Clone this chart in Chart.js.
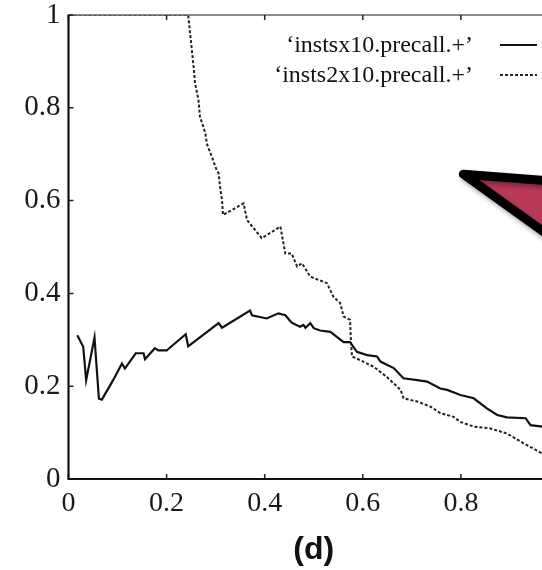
<!DOCTYPE html>
<html lang="en">
<head>
    <meta charset="UTF-8">
    <title>Precall</title>
    <script src="https://cdn.jsdelivr.net/npm/chart.js"></script>
    <style>
        html, body { margin: 0; padding: 0; background: #fff; overflow: hidden; }
        #wrap { width: 600px; height: 570px; }
    </style>
</head>
<body>
    <div id="wrap"><canvas id="chart" width="600" height="570"></canvas></div>

    <script>
        // precision/recall curves
        const instsX = [0.018, 0.030, 0.036, 0.053, 0.062, 0.068, 0.091, 0.109, 0.115, 0.137, 0.153, 0.156, 0.176,
            0.183, 0.200, 0.239, 0.244, 0.306, 0.313, 0.370, 0.374, 0.404, 0.428, 0.442, 0.455, 0.472, 0.479,
            0.483, 0.493, 0.500, 0.513, 0.534, 0.551, 0.561, 0.574, 0.588, 0.609, 0.629, 0.636, 0.663, 0.683,
            0.711, 0.731, 0.758, 0.772, 0.799, 0.826, 0.853, 0.874, 0.894, 0.932, 0.942, 0.966, 1.0];
        const instsY = [0.310, 0.285, 0.213, 0.305, 0.173, 0.171, 0.213, 0.249, 0.238, 0.271, 0.271, 0.258, 0.282,
            0.277, 0.277, 0.312, 0.286, 0.336, 0.326, 0.363, 0.353, 0.346, 0.357, 0.353, 0.337, 0.328, 0.332,
            0.326, 0.336, 0.325, 0.320, 0.317, 0.303, 0.295, 0.295, 0.274, 0.267, 0.264, 0.253, 0.239, 0.217,
            0.213, 0.210, 0.195, 0.192, 0.181, 0.174, 0.152, 0.138, 0.133, 0.131, 0.116, 0.113, 0.105];

        const insts2X = [0, 0.244, 0.248, 0.255, 0.258, 0.265, 0.268, 0.279, 0.282, 0.292, 0.302, 0.306, 0.309,
            0.313, 0.315, 0.357, 0.364, 0.394, 0.432, 0.442, 0.455, 0.466, 0.476, 0.493, 0.527, 0.540, 0.554,
            0.561, 0.574, 0.576, 0.578, 0.595, 0.622, 0.649, 0.677, 0.683, 0.711, 0.738, 0.758, 0.785, 0.799,
            0.826, 0.860, 0.894, 0.928, 0.966, 1.0];
        const insts2Y = [1.0, 1.0, 0.960, 0.889, 0.853, 0.817, 0.781, 0.745, 0.723, 0.695, 0.666, 0.659, 0.630,
            0.601, 0.569, 0.594, 0.558, 0.519, 0.544, 0.486, 0.486, 0.458, 0.465, 0.436, 0.422, 0.393, 0.379,
            0.350, 0.343, 0.292, 0.264, 0.256, 0.242, 0.220, 0.192, 0.174, 0.167, 0.156, 0.142, 0.134, 0.123,
            0.113, 0.109, 0.098, 0.077, 0.055, 0.045];

        const seriesLabels = ['\u2018instsx10.precall.+\u2019', '\u2018insts2x10.precall.+\u2019'];
        const xTicks = [0, 0.2, 0.4, 0.6, 0.8, 1];
        const yTicks = [0, 0.2, 0.4, 0.6, 0.8, 1];

        // pointer triangle, in data units
        const arrowX = [0.805, 1.125, 1.125];
        const arrowY = [0.657, 0.631, 0.414];

        const toPoints = (xs, ys) => xs.map((x, i) => ({ x: x, y: ys[i] }));
        const serif = "'Liberation Serif', 'DejaVu Serif', serif";

        // frame + inward ticks like gnuplot
        const framePlugin = {
            id: 'frame',
            afterDraw(chart) {
                const { ctx, chartArea: a, scales } = chart;
                ctx.save();
                ctx.strokeStyle = '#666';
                ctx.lineWidth = 1.5;
                ctx.strokeRect(a.left, a.top, a.right - a.left, a.bottom - a.top);
                ctx.strokeStyle = '#222';
                ctx.lineWidth = 1.5;
                ctx.beginPath();
                xTicks.forEach(v => {
                    const px = scales.x.getPixelForValue(v);
                    ctx.moveTo(px, a.bottom); ctx.lineTo(px, a.bottom - 5);
                    ctx.moveTo(px, a.top); ctx.lineTo(px, a.top + 5);
                });
                yTicks.forEach(v => {
                    const py = scales.y.getPixelForValue(v);
                    ctx.moveTo(a.left, py); ctx.lineTo(a.left + 5, py);
                    ctx.moveTo(a.right, py); ctx.lineTo(a.right - 5, py);
                });
                ctx.stroke();
                ctx.strokeStyle = '#111';
                ctx.lineWidth = 2;
                ctx.beginPath();
                ctx.moveTo(a.left, a.top); ctx.lineTo(a.left, a.bottom); ctx.lineTo(a.right, a.bottom);
                ctx.stroke();
                ctx.restore();
            }
        };

        // key in the top right: label then line sample
        const keyPlugin = {
            id: 'key',
            afterDraw(chart) {
                const { ctx } = chart;
                ctx.save();
                ctx.font = '24px ' + serif;
                ctx.textAlign = 'right';
                ctx.textBaseline = 'middle';
                chart.data.datasets.forEach((ds, i) => {
                    const y = 45 + i * 30;
                    ctx.fillStyle = '#111';
                    ctx.fillText(ds.label, 473, y + 1);
                    ctx.strokeStyle = ds.borderColor;
                    ctx.lineWidth = ds.borderWidth;
                    ctx.setLineDash(ds.borderDash || []);
                    ctx.beginPath();
                    ctx.moveTo(500, y); ctx.lineTo(537, y);
                    ctx.stroke();
                });
                ctx.restore();
            }
        };

        const arrowPlugin = {
            id: 'arrow',
            afterDraw(chart) {
                const { ctx, scales } = chart;
                ctx.save();
                ctx.beginPath();
                arrowX.forEach((x, i) => {
                    const px = scales.x.getPixelForValue(x);
                    const py = scales.y.getPixelForValue(arrowY[i]);
                    if (i === 0) ctx.moveTo(px, py); else ctx.lineTo(px, py);
                });
                ctx.closePath();
                ctx.shadowColor = 'rgba(0,0,0,0.35)';
                ctx.shadowBlur = 5;
                ctx.shadowOffsetX = 2;
                ctx.shadowOffsetY = 3;
                ctx.fillStyle = '#b83a56';
                ctx.fill();
                ctx.lineJoin = 'round';
                ctx.lineWidth = 9;
                ctx.strokeStyle = '#000';
                ctx.stroke();
                ctx.restore();
            }
        };

        new Chart(document.getElementById('chart'), {
            type: 'line',
            data: {
                datasets: [{
                    label: seriesLabels[0],
                    data: toPoints(instsX, instsY),
                    borderColor: '#111',
                    borderWidth: 2.2,
                    pointRadius: 0,
                    tension: 0,
                    fill: false
                }, {
                    label: seriesLabels[1],
                    data: toPoints(insts2X, insts2Y),
                    borderColor: '#222',
                    borderWidth: 2,
                    borderDash: [3, 2],
                    pointRadius: 0,
                    tension: 0,
                    fill: false
                }]
            },
            options: {
                responsive: false,
                animation: false,
                layout: { padding: { top: 15, right: 41, left: 0, bottom: 0 } },
                scales: {
                    x: {
                        type: 'linear',
                        min: 0,
                        max: 1,
                        afterBuildTicks: s => { s.ticks = xTicks.map(v => ({ value: v })); },
                        afterFit: s => { s.height = 91; s.paddingLeft = 0; s.paddingRight = 0; },
                        grid: { display: false, drawTicks: false },
                        border: { display: false },
                        ticks: {
                            padding: 8,
                            color: '#1a1a1a',
                            font: { family: serif, size: 28 },
                            maxRotation: 0,
                            callback: v => String(+v.toFixed(1))
                        },
                        title: {
                            display: true,
                            text: '(d)',
                            color: '#111',
                            font: { family: "'Liberation Sans', Arial, sans-serif", size: 32, weight: 'bold', lineHeight: 1.2 },
                            padding: { top: 0, bottom: 1 }
                        }
                    },
                    y: {
                        min: 0,
                        max: 1,
                        afterBuildTicks: s => { s.ticks = yTicks.map(v => ({ value: v })); },
                        afterFit: s => { s.width = 68.5; s.paddingTop = 0; s.paddingBottom = 0; },
                        grid: { display: false, drawTicks: false },
                        border: { display: false },
                        ticks: {
                            padding: 8,
                            color: '#1a1a1a',
                            font: { family: serif, size: 29 },
                            callback: v => String(+v.toFixed(1))
                        }
                    }
                },
                plugins: {
                    legend: { display: false },
                    tooltip: { enabled: false }
                }
            },
            plugins: [framePlugin, keyPlugin, arrowPlugin]
        });
    </script>
</body>
</html>
